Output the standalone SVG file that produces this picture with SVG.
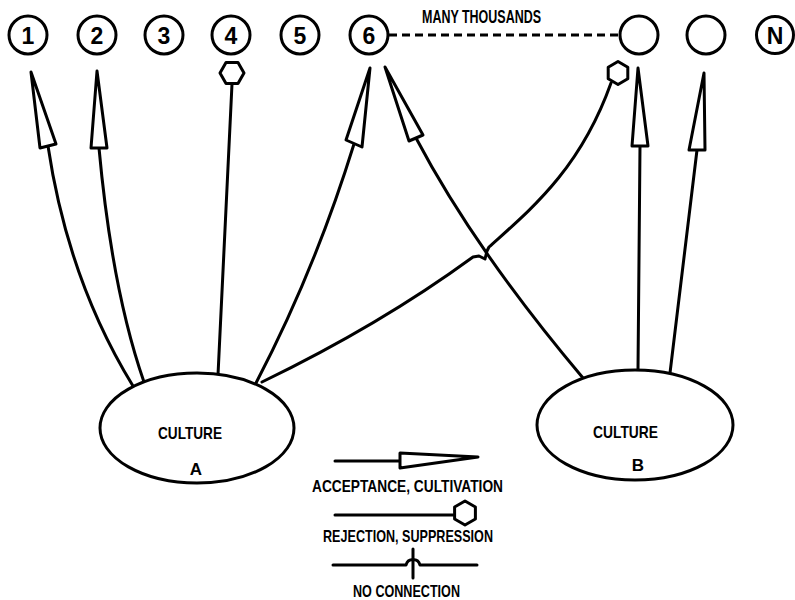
<svg xmlns="http://www.w3.org/2000/svg" width="795" height="600" viewBox="0 0 795 600">
<style>
.ln{fill:none;stroke:#000;stroke-width:3;stroke-linecap:round;stroke-linejoin:round}
.ah{fill:#fff;stroke:#000;stroke-width:3;stroke-linejoin:round}
.nc{fill:#fff;stroke:#000;stroke-width:3}
.el{fill:#fff;stroke:#000;stroke-width:3}
.t{font-family:"Liberation Sans",Arial,sans-serif;font-weight:bold;fill:#000}
.num{font-size:23px;text-anchor:middle}
.lab{font-size:16.5px}
</style>
<rect width="795" height="600" fill="#fff"/>

<g id="connectors">
  <!-- Culture A to 1 -->
  <path class="ln" d="M133,386 Q68,280 48,146"/>
  <polygon class="ah" points="31,72 56,144 40,148"/>
  <!-- Culture A to 2 -->
  <path class="ln" d="M144,382 Q112,290 99,148"/>
  <polygon class="ah" points="97,71 107,148 91,148"/>
  <!-- Culture A rejects 4 -->
  <path class="ln" d="M218,375 L232,84"/>
  <polygon class="ah" points="244,73 238,62.6 226,62.6 220,73 226,83.4 238,83.4"/>
  <!-- Culture A to 6 -->
  <path class="ln" d="M256,383 Q315,270 354,144"/>
  <polygon class="ah" points="370,68 362,147 346,140"/>
  <!-- Culture A rejects unnamed node (with no-connection hop) -->
  <path class="ln" d="M262,382 Q380,325 473,257 L479,256 L485,259 L487,251 L489,247 C530,210 580,170 611,83"/>
  <polygon class="ah" points="618,61.5 627.8,67.2 627.8,78.8 618,84.5 608.2,78.8 608.2,67.2"/>
  <!-- Culture B to 6 -->
  <path class="ln" d="M583,378 Q475,250 416,138"/>
  <polygon class="ah" points="385,67 423,135 409,141"/>
  <!-- Culture B to unnamed node 1 -->
  <path class="ln" d="M638,370 L640,146"/>
  <polygon class="ah" points="638,68 648,146 632,146"/>
  <!-- Culture B to unnamed node 2 -->
  <path class="ln" d="M670,373 L697,150"/>
  <polygon class="ah" points="704,73 705,150 689,150"/>
  <!-- many thousands dashed link -->
  <line x1="389" y1="35" x2="619" y2="35" stroke="#000" stroke-width="3" stroke-dasharray="8,5"/>
</g>

<text class="t" x="422" y="23" font-size="17.5" textLength="119" lengthAdjust="spacingAndGlyphs">MANY THOUSANDS</text>

<g id="node1"><circle class="nc" cx="28" cy="35" r="19"/><text class="t num" x="28" y="43.5">1</text></g>
<g id="node2"><circle class="nc" cx="97" cy="35" r="19"/><text class="t num" x="97" y="43.5">2</text></g>
<g id="node3"><circle class="nc" cx="164" cy="35" r="19"/><text class="t num" x="164" y="43.5">3</text></g>
<g id="node4"><circle class="nc" cx="231" cy="35" r="19"/><text class="t num" x="231" y="43.5">4</text></g>
<g id="node5"><circle class="nc" cx="300" cy="35" r="19"/><text class="t num" x="300" y="43.5">5</text></g>
<g id="node6"><circle class="nc" cx="369" cy="35" r="19"/><text class="t num" x="369" y="43.5">6</text></g>
<g id="node7"><circle class="nc" cx="639" cy="35" r="19"/></g>
<g id="node8"><circle class="nc" cx="706" cy="35" r="19"/></g>
<g id="nodeN"><circle class="nc" cx="775" cy="35" r="18.5" stroke-width="2.5"/><text class="t num" x="775" y="43.5">N</text></g>

<g id="cultureA">
  <ellipse class="el" cx="197" cy="428" rx="97" ry="55"/>
  <text class="t" x="158" y="439" font-size="17" textLength="64" lengthAdjust="spacingAndGlyphs">CULTURE</text>
  <text class="t" x="196" y="475" font-size="17" text-anchor="middle">A</text>
</g>
<g id="cultureB">
  <ellipse class="el" cx="635" cy="425" rx="98" ry="55"/>
  <text class="t" x="593" y="438" font-size="17" textLength="65" lengthAdjust="spacingAndGlyphs">CULTURE</text>
  <text class="t" x="638" y="471" font-size="17" text-anchor="middle">B</text>
</g>

<g id="legend-acceptance">
  <line class="ln" x1="335" y1="461" x2="400" y2="461"/>
  <polygon class="ah" points="400,453 478,457 400,468"/>
  <text class="t lab" x="312" y="492" textLength="191" lengthAdjust="spacingAndGlyphs">ACCEPTANCE, CULTIVATION</text>
</g>
<g id="legend-rejection">
  <line class="ln" x1="335" y1="515" x2="453" y2="515"/>
  <polygon class="ah" points="465,501 475.4,507 475.4,519 465,525 454.6,519 454.6,507"/>
  <text class="t lab" x="323" y="542" textLength="170" lengthAdjust="spacingAndGlyphs">REJECTION, SUPPRESSION</text>
</g>
<g id="legend-noconnection">
  <path class="ln" d="M333,565 L406,565 Q408,559 413,560 Q418,559 420,565 L477,565"/>
  <line class="ln" x1="413" y1="549" x2="413" y2="578"/>
  <text class="t lab" x="353" y="597" textLength="107" lengthAdjust="spacingAndGlyphs">NO CONNECTION</text>
</g>
</svg>
